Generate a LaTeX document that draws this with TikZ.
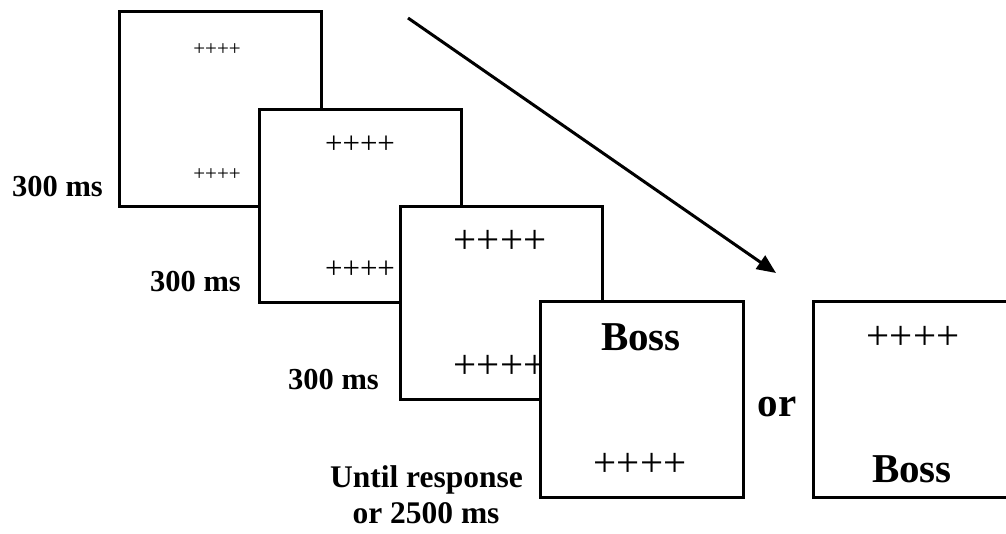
\documentclass[tikz,border=0pt]{standalone}
\usepackage{fontspec}
\setmainfont{Liberation Serif}
\usetikzlibrary{arrows.meta,positioning}
\tikzset{
    >={Triangle[length=19pt,width=16pt]},
    screen/.style={draw,line width=3pt,fill=white,inner sep=0pt,minimum width=202pt,minimum height=195pt},
    lbl/.style={font=\bfseries\fontsize{30.5}{36}\selectfont,inner sep=0pt,anchor=base},
    word/.style={font=\bfseries\fontsize{41}{41}\selectfont,inner sep=0pt,anchor=base},
    cue/.style={font=\fontsize{41}{41}\selectfont,inner sep=0pt}
}
\begin{document}
\begin{tikzpicture}[x=1pt,y=-1pt]
        \useasboundingbox (0,0) rectangle (1006,534);
        % First screen
        \node[screen] (s1) at (220,109.5) {};
        \node[cue,font=\fontsize{21}{21}\selectfont] (p1a) at (217,50) {++++};
        \node[cue,font=\fontsize{21}{21}\selectfont] (p1b) at (217,175) {++++};
        \node[lbl] (t1) at (57.5,197) {300 ms};
        % Second screen
        \node[screen,minimum height=193pt] (s2) at (360,206.5) {};
        \node[cue,font=\fontsize{31}{31}\selectfont] (p2a) at (360,145) {++++};
        \node[cue,font=\fontsize{31}{31}\selectfont] (p2b) at (360,270) {++++};
        \node[lbl] (t2) at (195.5,292) {300 ms};
        % Third screen
        \node[screen,minimum height=192pt] (s3) at (501,303) {};
        \node[cue] (p3a) at (500,242) {++++};
        \node[cue] (p3b) at (500,367) {++++};
        \node[lbl] (t3) at (333.5,389) {300 ms};
        % Target screens
        \node[screen,minimum width=203pt] (s4) at (641.5,399.5) {};
        \node[word] (w4) at (641,351) {Boss};
        \node[cue] (p4) at (640,465) {++++};
        \node[lbl,font=\bfseries\fontsize{31.5}{36}\selectfont] (u1) at (426.5,487) {Until response};
        \node[lbl,font=\bfseries\fontsize{31.5}{36}\selectfont] (u2) at (426,523) {or 2500 ms};
        \node[word] (or) at (777,416) {or};
        \node[screen,minimum width=207pt] (s5) at (916.5,399.5) {};
        \node[cue] (p5) at (913,338) {++++};
        \node[word] (w5) at (912,482) {Boss};
        % Time arrow
        \coordinate (a0) at (408,18);
        \coordinate (a1) at (776,273);
        \draw[->,line width=3pt] (a0) -- (a1);
    \end{tikzpicture}
\end{document}
